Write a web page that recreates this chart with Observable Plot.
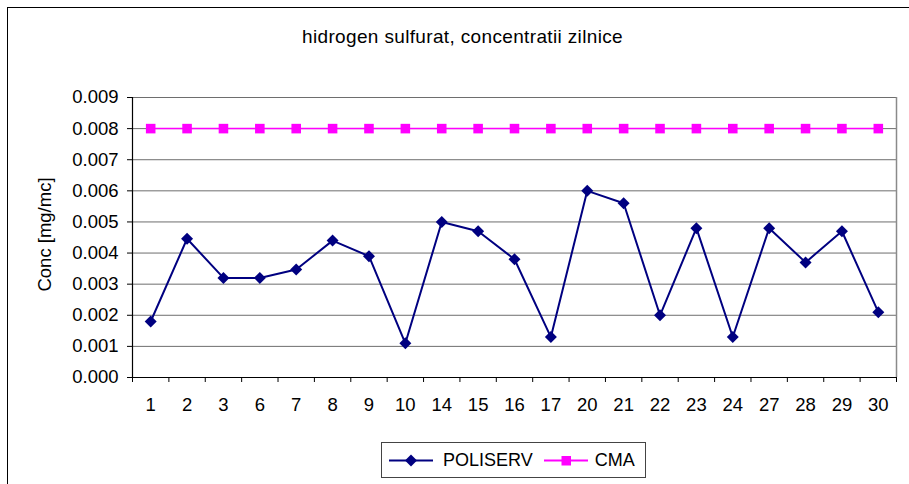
<!DOCTYPE html>
<html>
<head>
<meta charset="utf-8">
<script src="https://cdn.jsdelivr.net/npm/d3@7"></script>
<script src="https://cdn.jsdelivr.net/npm/@observablehq/plot@0.6"></script>
<style>
  html, body { margin: 0; padding: 0; background: #fff; overflow: hidden; width: 909px; height: 484px; }
  #wrap { position: relative; width: 909px; height: 484px; font-family: "Liberation Sans", Arial, sans-serif; }
  #frame { position: absolute; left: 7px; top: 7px; width: 1000px; height: 1000px; border: 1.5px solid #000; box-sizing: border-box; }
  #title { position: absolute; left: 0; width: 925px; top: 26px; line-height: 22px; font-size: 19px; letter-spacing: 0.35px; text-align: center; color: #000; }
  #chart { position: absolute; left: 0; top: 60px; }
  #legend { position: absolute; left: 381px; top: 442px; width: 265px; height: 36px; border: 1px solid #444; box-sizing: border-box; display: flex; align-items: center; font-size: 18px; color: #000; }
  #legend .item { display: flex; align-items: center; }
  #legend svg { display: block; }
</style>
</head>
<body>
<div id="wrap">
  <div id="frame"></div>
  <div id="title"></div>
  <div id="chart"></div>
  <div id="legend"></div>
</div>
<script>
const titleText = "hidrogen sulfurat, concentratii zilnice";
const yLabel = "Conc [mg/mc]";
const days = [1, 2, 3, 6, 7, 8, 9, 10, 14, 15, 16, 17, 20, 21, 22, 23, 24, 27, 28, 29, 30];
const poliserv = [0.0018, 0.00446, 0.0032, 0.0032, 0.00347, 0.0044, 0.0039, 0.0011, 0.005, 0.0047, 0.0038, 0.0013, 0.006, 0.0056, 0.002, 0.0048, 0.0013, 0.0048, 0.0037, 0.0047, 0.0021];
const cma = [0.008, 0.008, 0.008, 0.008, 0.008, 0.008, 0.008, 0.008, 0.008, 0.008, 0.008, 0.008, 0.008, 0.008, 0.008, 0.008, 0.008, 0.008, 0.008, 0.008, 0.008];
const yTicks = [0, 0.001, 0.002, 0.003, 0.004, 0.005, 0.006, 0.007, 0.008, 0.009];
const seriesNames = ["POLISERV", "CMA"];
const seriesColors = ["#000080", "#FF00FF"];

const table = days.map((d, i) => ({i, day: d, poliserv: poliserv[i], cma: cma[i]}));
const n = days.length;
const boundaries = d3.range(n + 1).map(k => k - 0.5);

document.getElementById("title").textContent = titleText;

const chart = Plot.plot({
  width: 909,
  height: 370,
  marginTop: 37,
  marginBottom: 53,
  marginLeft: 132,
  marginRight: 13,
  style: {fontFamily: "'Liberation Sans', Arial, sans-serif", fontSize: "18.5px", color: "#000", background: "transparent"},
  x: {type: "linear", domain: [-0.5, n - 0.5]},
  y: {type: "linear", domain: [0, 0.009]},
  marks: [
    Plot.gridY(yTicks.filter(v => v > 0), {stroke: "#6e6e6e", strokeOpacity: 1, strokeWidth: 1}),
    Plot.ruleX([n - 0.5], {stroke: "#8a8a8a", strokeWidth: 1.5}),
    Plot.ruleX([-0.5], {stroke: "#000", strokeWidth: 1.2}),
    Plot.ruleY([0], {stroke: "#000", strokeWidth: 1.2}),
    Plot.axisY({ticks: yTicks, tickSize: 5, tickPadding: 9, tickFormat: d3.format(".3f"), label: null}),
    Plot.axisX({ticks: boundaries, tickSize: 5, tickFormat: () => "", label: null}),
    Plot.axisX({ticks: d3.range(n), tickSize: 0, tickPadding: 20, tickFormat: i => days[i], label: null}),
    Plot.text([yLabel], {frameAnchor: "left", textAnchor: "middle", rotate: -90, dx: -87, dy: -3, fontSize: 18.5}),
    Plot.line(table, {x: "i", y: "cma", stroke: seriesColors[1], strokeWidth: 1.5}),
    Plot.dot(table, {x: "i", y: "cma", symbol: "square", r: 5.4, fill: seriesColors[1], stroke: "none"}),
    Plot.line(table, {x: "i", y: "poliserv", stroke: seriesColors[0], strokeWidth: 2}),
    Plot.dot(table, {x: "i", y: "poliserv", symbol: "diamond2", r: 5.4, fill: seriesColors[0], stroke: "none"})
  ]
});
document.getElementById("chart").appendChild(chart);

// Legend
const legend = document.getElementById("legend");
const swatch = (color, shape) => {
  const mk = shape === "diamond"
    ? `<path d="M22,2.5 L28,8.5 L22,14.5 L16,8.5 Z" fill="${color}"/>`
    : `<rect x="17.5" y="4" width="9.5" height="9.5" fill="${color}"/>`;
  return `<svg width="44" height="17"><line x1="0" y1="8.5" x2="44" y2="8.5" stroke="${color}" stroke-width="2"/>${mk}</svg>`;
};
legend.innerHTML =
  `<div class="item" style="margin-left:7px">${swatch(seriesColors[0], "diamond")}<span style="margin-left:10px">${seriesNames[0]}</span></div>` +
  `<div class="item" style="margin-left:11px">${swatch(seriesColors[1], "square")}<span style="margin-left:7px">${seriesNames[1]}</span></div>`;
</script>
</body>
</html>
